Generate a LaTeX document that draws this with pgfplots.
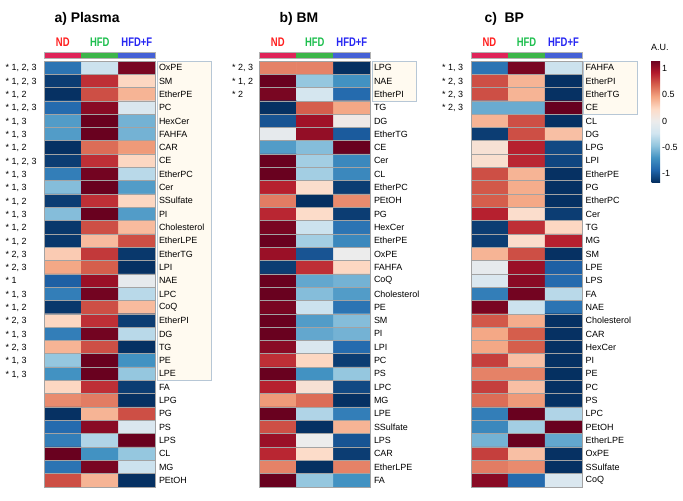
\documentclass[border=0pt]{standalone}
\usepackage{graphicx}
\usepackage{pgfplots}
\pgfplotsset{compat=1.18}
\usepackage{pgfplotstable}
\usepackage{fontspec}
\setmainfont{Liberation Sans}
\definecolor{gridc}{HTML}{A3A3A3}
\definecolor{boxfill}{HTML}{FFFAF0}
\definecolor{boxdraw}{HTML}{B7C7D6}
\definecolor{ndbar}{HTML}{DF2459}
\definecolor{hfdbar}{HTML}{3DB54A}
\definecolor{hfdfbar}{HTML}{4561D6}
\definecolor{ndtxt}{HTML}{FF1F1F}
\definecolor{hfdtxt}{HTML}{1FBF4F}
\definecolor{hfdftxt}{HTML}{2626F2}
\newcommand\lab{\fontsize{9}{10}\selectfont}

% Panel a (Plasma): rows 0..31, columns ND=0, HFD=1, HFD+F=2
\pgfplotstableread{
x y c
0 0 -0.85
1 0 -0.25
2 0 1.10
0 1 -1.10
1 1 0.85
2 1 0.25
0 2 -1.15
1 2 0.75
2 2 0.40
0 3 -0.90
1 3 1.05
2 3 -0.15
0 4 -0.65
1 4 1.15
2 4 -0.55
0 5 -0.65
1 5 1.15
2 5 -0.55
0 6 -1.15
1 6 0.65
2 6 0.50
0 7 -1.10
1 7 0.85
2 7 0.25
0 8 -0.80
1 8 1.12
2 8 -0.32
0 9 -0.50
1 9 1.15
2 9 -0.65
0 10 -1.10
1 10 0.85
2 10 0.25
0 11 -0.50
1 11 1.15
2 11 -0.65
0 12 -1.12
1 12 0.75
2 12 0.37
0 13 -1.12
1 13 0.37
2 13 0.75
0 14 0.30
1 14 0.82
2 14 -1.12
0 15 0.45
1 15 0.70
2 15 -1.15
0 16 -0.95
1 16 1.00
2 16 -0.05
0 17 -0.80
1 17 1.12
2 17 -0.32
0 18 -1.12
1 18 0.75
2 18 0.37
0 19 0.25
1 19 0.85
2 19 -1.10
0 20 -0.80
1 20 1.12
2 20 -0.32
0 21 0.40
1 21 0.75
2 21 -1.15
0 22 -0.45
1 22 1.15
2 22 -0.70
0 23 -0.70
1 23 1.15
2 23 -0.45
0 24 0.25
1 24 0.85
2 24 -1.10
0 25 0.55
1 25 0.60
2 25 -1.15
0 26 -1.15
1 26 0.40
2 26 0.75
0 27 -0.90
1 27 1.05
2 27 -0.15
0 28 -0.80
1 28 -0.35
2 28 1.15
0 29 1.15
1 29 -0.70
2 29 -0.45
0 30 -0.85
1 30 1.10
2 30 -0.25
0 31 0.75
1 31 0.40
2 31 -1.15
}\tabA

% Panel b (BM)
\pgfplotstableread{
x y c
0 0 0.58
1 0 0.58
2 0 -1.155
0 1 1.15
1 1 -0.45
2 1 -0.70
0 2 1.10
1 2 -0.20
2 2 -0.90
0 3 -1.15
1 3 0.70
2 3 0.45
0 4 -1.00
1 4 0.98
2 4 0.04
0 5 -0.05
1 5 1.02
2 5 -0.97
0 6 -0.65
1 6 -0.50
2 6 1.15
0 7 1.15
1 7 -0.40
2 7 -0.75
0 8 1.15
1 8 -0.40
2 8 -0.75
0 9 0.90
1 9 0.20
2 9 -1.10
0 10 0.60
1 10 -1.155
2 10 0.55
0 11 0.88
1 11 0.22
2 11 -1.10
0 12 1.10
1 12 -0.25
2 12 -0.85
0 13 1.15
1 13 -0.40
2 13 -0.75
0 14 1.00
1 14 -1.00
2 14 0.00
0 15 -1.10
1 15 0.85
2 15 0.25
0 16 1.15
1 16 -0.60
2 16 -0.55
0 17 1.15
1 17 -0.50
2 17 -0.65
0 18 1.10
1 18 -0.25
2 18 -0.85
0 19 1.15
1 19 -0.65
2 19 -0.50
0 20 1.15
1 20 -0.60
2 20 -0.55
0 21 1.05
1 21 -0.15
2 21 -0.90
0 22 0.85
1 22 0.25
2 22 -1.10
0 23 1.15
1 23 -0.70
2 23 -0.45
0 24 0.90
1 24 0.15
2 24 -1.05
0 25 0.50
1 25 0.65
2 25 -1.15
0 26 1.15
1 26 -0.35
2 26 -0.80
0 27 0.75
1 27 -1.15
2 27 0.40
0 28 1.00
1 28 0.00
2 28 -1.00
0 29 0.88
1 29 0.22
2 29 -1.10
0 30 0.58
1 30 -1.155
2 30 0.58
0 31 1.15
1 31 -0.45
2 31 -0.70
}\tabB

% Panel c (BP)
\pgfplotstableread{
x y c
0 0 -0.85
1 0 1.10
2 0 -0.25
0 1 0.75
1 1 0.40
2 1 -1.15
0 2 0.75
1 2 0.40
2 2 -1.15
0 3 -0.58
1 3 -0.58
2 3 1.155
0 4 0.40
1 4 0.75
2 4 -1.15
0 5 -1.10
1 5 0.75
2 5 0.35
0 6 0.15
1 6 0.90
2 6 -1.05
0 7 0.18
1 7 0.88
2 7 -1.06
0 8 0.75
1 8 0.40
2 8 -1.15
0 9 0.72
1 9 0.43
2 9 -1.15
0 10 0.70
1 10 0.45
2 10 -1.15
0 11 0.90
1 11 0.20
2 11 -1.10
0 12 -1.10
1 12 0.85
2 12 0.25
0 13 -1.10
1 13 0.20
2 13 0.90
0 14 0.40
1 14 0.75
2 14 -1.15
0 15 -0.05
1 15 1.00
2 15 -0.95
0 16 -0.15
1 16 1.05
2 16 -0.90
0 17 -0.80
1 17 1.12
2 17 -0.32
0 18 1.10
1 18 -0.25
2 18 -0.85
0 19 0.72
1 19 0.43
2 19 -1.15
0 20 0.45
1 20 0.70
2 20 -1.15
0 21 0.45
1 21 0.70
2 21 -1.15
0 22 0.80
1 22 0.35
2 22 -1.15
0 23 0.58
1 23 0.58
2 23 -1.155
0 24 0.80
1 24 0.35
2 24 -1.15
0 25 0.65
1 25 0.50
2 25 -1.15
0 26 -0.80
1 26 1.15
2 26 -0.35
0 27 -0.75
1 27 -0.40
2 27 1.15
0 28 -0.55
1 28 1.15
2 28 -0.60
0 29 0.80
1 29 0.35
2 29 -1.15
0 30 0.60
1 30 0.55
2 30 -1.15
0 31 1.05
1 31 -0.90
2 31 -0.15
}\tabC

\pgfplotsset{
  hm/.style={
    scale only axis, width=111bp, height=426bp, anchor=north west,
    xmin=-0.5, xmax=2.5, ymin=-0.5, ymax=31.5, y dir=reverse,
    colormap={rdbu}{rgb255=(5,48,97) rgb255=(33,102,172) rgb255=(67,147,195)
      rgb255=(146,197,222) rgb255=(209,229,240) rgb255=(236,236,236)
      rgb255=(253,219,199) rgb255=(244,165,130) rgb255=(214,96,77)
      rgb255=(178,24,43) rgb255=(103,0,31)},
    point meta min=-1.155, point meta max=1.155,
    xtick=\empty, ytick={0,1,...,31}, yticklabel pos=right,
    minor xtick={0.5,1.5}, minor ytick={0.5,1.5,...,30.5},
    xminorgrids=true, yminorgrids=true,
    minor grid style={draw=gridc, line width=0.8bp},
    major tick length=0pt, minor tick length=0pt,
    axis line style={draw=gridc, line width=0.8bp},
    axis on top,
    yticklabel style={font=\lab, inner sep=2bp, xshift=1.5bp},
  },
  hmplot/.style={matrix plot*, mesh/cols=3, point meta=explicit},
}

\begin{document}
\begin{tikzpicture}
\path[use as bounding box] (0,0) rectangle (683bp,-501bp);

% significance boxes
\draw[boxdraw, fill=boxfill, line width=0.8bp] (157.5bp,-61bp) rectangle (211bp,-380.5bp);
\draw[boxdraw, fill=boxfill, line width=0.8bp] (372bp,-61bp) rectangle (416bp,-101bp);
\draw[boxdraw, fill=boxfill, line width=0.8bp] (583.5bp,-61bp) rectangle (637bp,-114.3bp);

% titles
\node[anchor=base west, font=\bfseries\fontsize{14}{16}\selectfont] at (51bp,-22.7bp) {a) Plasma};
\node[anchor=base west, font=\bfseries\fontsize{14}{16}\selectfont] at (276bp,-22.7bp) {b) BM};
\node[anchor=base west, font=\bfseries\fontsize{14}{16}\selectfont] at (481bp,-22.7bp) {c)\ \ BP};

% group headers and bars
\foreach \x in {44.3,259.3,471} {
  \node[anchor=base, font=\bfseries\fontsize{12.5}{14}\selectfont, text=ndtxt] at ({(\x+18.5)*1bp},-46.7bp) {\scalebox{0.76}[1]{ND}};
  \node[anchor=base, font=\bfseries\fontsize{12.5}{14}\selectfont, text=hfdtxt] at ({(\x+55.5)*1bp},-46.7bp) {\scalebox{0.76}[1]{HFD}};
  \node[anchor=base, font=\bfseries\fontsize{12.5}{14}\selectfont, text=hfdftxt] at ({(\x+92.5)*1bp},-46.7bp) {\scalebox{0.76}[1]{HFD+F}};
  \fill[ndbar] ({\x*1bp},-52bp) rectangle ({(\x+37)*1bp},-58bp);
  \fill[hfdbar] ({(\x+37)*1bp},-52bp) rectangle ({(\x+74)*1bp},-58bp);
  \fill[hfdfbar] ({(\x+74)*1bp},-52bp) rectangle ({(\x+111)*1bp},-58bp);
  \draw[gray!60, line width=0.4bp] ({\x*1bp},-52bp) rectangle ({(\x+111)*1bp},-58bp);
}

% significance labels
\foreach \i/\t in {0/{1, 2, 3},1/{1, 2, 3},2/{1, 2},3/{1, 2, 3},4/{1, 3},5/{1, 3},6/{1, 2},7/{1, 2, 3},8/{1, 3},9/{1, 3},10/{1, 2},11/{1, 3},12/{1, 2},13/{1, 2},14/{2, 3},15/{2, 3},16/{1},17/{1, 3},18/{1, 2},19/{2, 3},20/{1, 3},21/{2, 3},22/{1, 3},23/{1, 3}}
  \node[anchor=base west, font=\lab, inner sep=0pt] at (5.5bp,{-(61+13.3125*(\i+0.5)+3.3)*1bp}) {* \t};
\foreach \i/\t in {0/{2, 3},1/{1, 2},2/{2}}
  \node[anchor=base west, font=\lab, inner sep=0pt] at (232bp,{-(61+13.3125*(\i+0.5)+3.3)*1bp}) {* \t};
\foreach \i/\t in {0/{1, 3},1/{2, 3},2/{2, 3},3/{2, 3}}
  \node[anchor=base west, font=\lab, inner sep=0pt] at (442bp,{-(61+13.3125*(\i+0.5)+3.3)*1bp}) {* \t};

% Panel a
\begin{axis}[hm, at={(44.3bp,-61bp)},
  yticklabels={OxPE,SM,EtherPE,PC,HexCer,FAHFA,CAR,CE,EtherPC,Cer,SSulfate,PI,Cholesterol,EtherLPE,EtherTG,LPI,NAE,LPC,CoQ,EtherPI,DG,TG,PE,LPE,FA,LPG,PG,PS,LPS,CL,MG,PEtOH}]
\addplot[hmplot] table[x=x, y=y, meta=c] {\tabA};
\end{axis}

% Panel b
\begin{axis}[hm, at={(259.3bp,-61bp)},
  yticklabels={LPG,NAE,EtherPI,TG,DG,EtherTG,CE,Cer,CL,EtherPC,PEtOH,PG,HexCer,EtherPE,OxPE,FAHFA,CoQ,Cholesterol,PE,SM,PI,LPI,PC,PS,LPC,MG,LPE,SSulfate,LPS,CAR,EtherLPE,FA}]
\addplot[hmplot] table[x=x, y=y, meta=c] {\tabB};
\end{axis}

% Panel c
\begin{axis}[hm, at={(471bp,-61bp)},
  yticklabels={FAHFA,EtherPI,EtherTG,CE,CL,DG,LPG,LPI,EtherPE,PG,EtherPC,Cer,TG,MG,SM,LPE,LPS,FA,NAE,Cholesterol,CAR,HexCer,PI,PE,PC,PS,LPC,PEtOH,EtherLPE,OxPE,SSulfate,CoQ},
  colorbar,
  colorbar style={at={(parent axis.north east)}, anchor=north west,
    xshift=61bp, yshift=1bp, scale only axis, width=8.5bp, height=122bp,
    ytick={-1,-0.5,0,0.5,1}, yticklabels={-1,-0.5,0,0.5,1},
    yticklabel style={font=\lab, inner sep=2bp},
    major tick length=0pt, axis line style={draw=none}}]
\addplot[hmplot] table[x=x, y=y, meta=c] {\tabC};
\end{axis}

\node[anchor=base west, font=\lab, inner sep=0pt] at (651bp,-50bp) {A.U.};
\end{tikzpicture}
\end{document}
